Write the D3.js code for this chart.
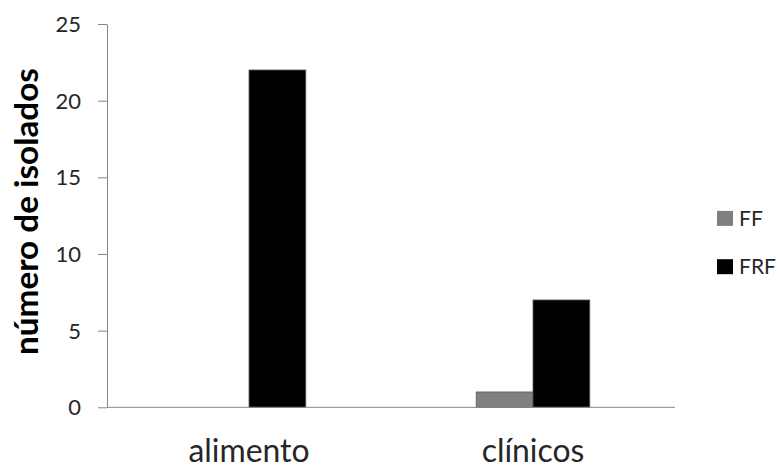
<!DOCTYPE html>
<html>
<head>
<meta charset="utf-8">
<script src="https://cdn.jsdelivr.net/npm/d3@7"></script>
<style>
  html, body { margin: 0; padding: 0; background: #fff; }
  svg { display: block; font-family: Lato, "Open Sans", sans-serif; }
</style>
</head>
<body>
<svg id="chart" width="779" height="468"></svg>
<script>
// Number of isolates per source, split by phenotype
const categories = ["alimento", "clínicos"];
const seriesNames = ["FF", "FRF"];
const ffValues = [0, 1];
const frfValues = [22, 7];
const yTicks = [0, 5, 10, 15, 20, 25];
const yTitle = "número de isolados";

const colors = { FF: "#808080", FRF: "#000000" };
const seriesValues = { FF: ffValues, FRF: frfValues };

const svg = d3.select("#chart");

// Plot area
const plotLeft = 107, plotRight = 675, plotTop = 24, plotBottom = 407.3;

const x = d3.scaleBand()
  .domain(categories)
  .range([plotLeft, plotRight])
  .paddingInner(0.6)
  .paddingOuter(0.3);

const xSeries = d3.scaleBand()
  .domain(seriesNames)
  .range([0, x.bandwidth()]);

const y = d3.scaleLinear().domain([0, 25]).range([plotBottom, plotTop]);

// Scale a text element's font so that its rendered width hits a target
function fitWidth(sel, target, base) {
  sel.each(function () {
    const t = d3.select(this);
    t.attr("font-size", base);
    const w = this.getComputedTextLength();
    if (w > 0) t.attr("font-size", (base * target / w).toFixed(2));
  });
}

// Bars
const rows = categories.map((c, i) => ({ cat: c, values: seriesNames.map(s => ({ s, v: seriesValues[s][i] })) }));
const groups = svg.append("g").selectAll("g").data(rows).join("g")
  .attr("transform", d => `translate(${x(d.cat)},0)`);
groups.selectAll("rect").data(d => d.values.filter(e => e.v > 0)).join("rect")
  .attr("x", d => xSeries(d.s))
  .attr("width", xSeries.bandwidth())
  .attr("y", d => y(d.v))
  .attr("height", d => y(0) - y(d.v))
  .attr("fill", d => colors[d.s])
  .attr("stroke", "#5a5a5a")
  .attr("stroke-width", 0.8);

// Y axis
const yAxis = svg.append("g")
  .attr("transform", `translate(${plotLeft},0)`)
  .call(d3.axisLeft(y).tickValues(yTicks).tickSize(9).tickPadding(17).tickSizeOuter(0));
yAxis.select(".domain").attr("stroke", "#868686");
yAxis.selectAll(".tick line").attr("stroke", "#868686");
yAxis.selectAll(".tick text")
  .attr("fill", "#262626")
  .attr("font-family", "Lato, sans-serif")
  .attr("font-size", 22)
  .attr("dy", "0.34em");

// X axis baseline
svg.append("line")
  .attr("x1", plotLeft).attr("x2", plotRight)
  .attr("y1", y(0)).attr("y2", y(0))
  .attr("stroke", "#868686");

// Category labels
const catLabels = svg.append("g").selectAll("text").data(categories).join("text")
  .attr("x", d => x(d) + x.bandwidth() / 2)
  .attr("y", 461.5)
  .attr("text-anchor", "middle")
  .attr("fill", "#262626")
  .text(d => d);
fitWidth(catLabels.filter(d => d === "alimento"), 121, 30);
catLabels.filter(d => d !== "alimento").attr("font-size", catLabels.filter(d => d === "alimento").attr("font-size"));

// Y title
const title = svg.append("text")
  .attr("transform", "translate(38,211.5) rotate(-90)")
  .attr("text-anchor", "middle")
  .attr("font-weight", "bold")
  .attr("fill", "#000")
  .text(yTitle);
fitWidth(title, 287, 26);

// Legend
const legend = svg.append("g").selectAll("g").data(seriesNames).join("g")
  .attr("transform", (d, i) => `translate(717,${218.4 + i * 48.3})`);
legend.append("rect")
  .attr("x", 0).attr("y", -7.5)
  .attr("width", 16).attr("height", 15)
  .attr("fill", d => colors[d]);
legend.append("text")
  .attr("x", 22).attr("y", 7.6)
  .attr("font-size", 21)
  .attr("fill", "#262626")
  .text(d => d);
</script>
</body>
</html>
